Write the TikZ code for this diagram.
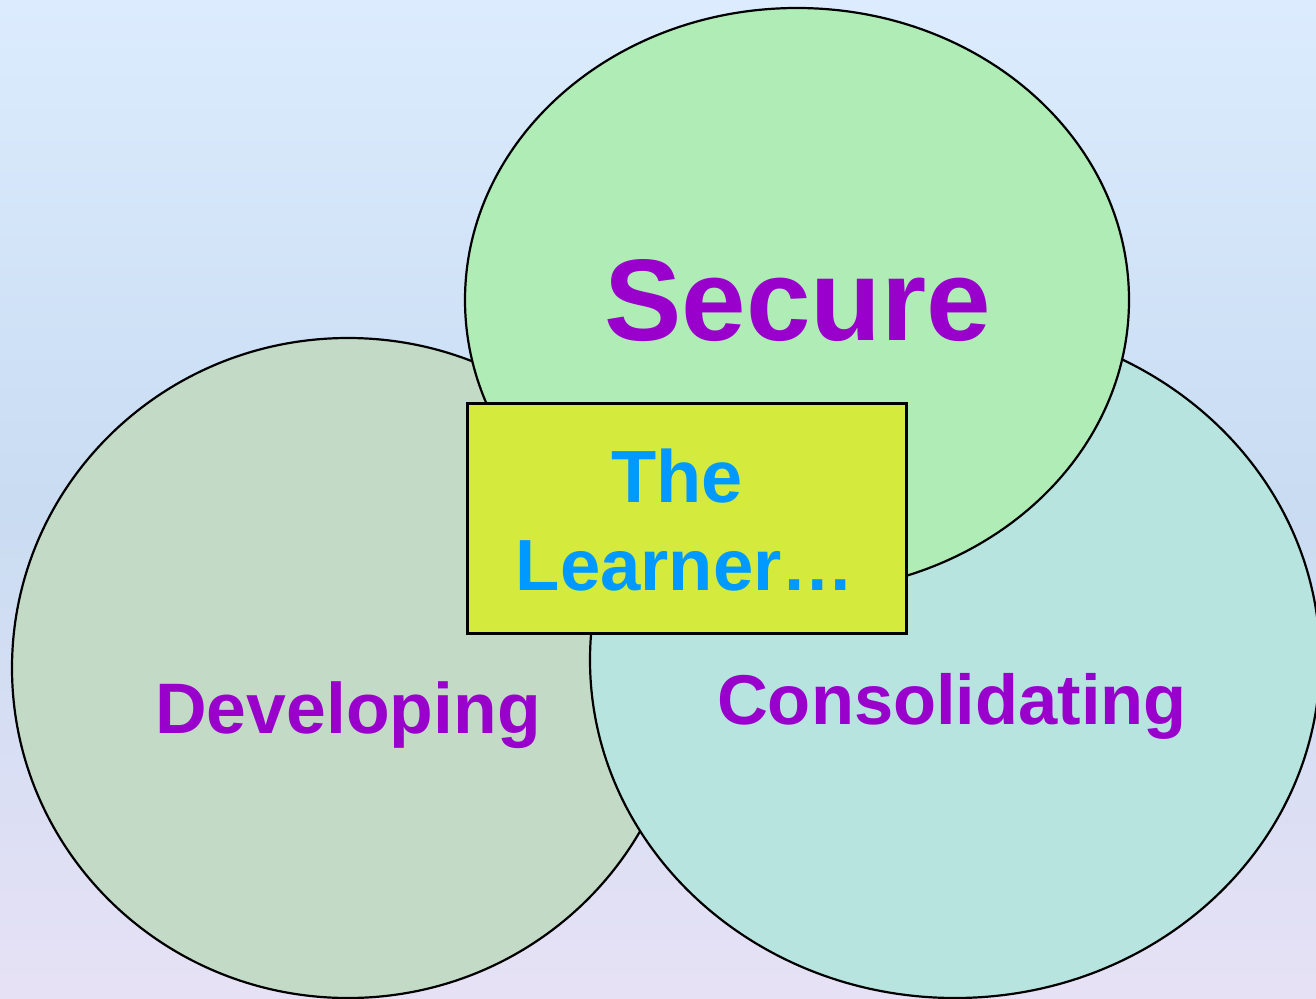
\documentclass[tikz,border=0pt]{standalone}
\usepackage{fontspec}
\setmainfont{Liberation Sans}
\usetikzlibrary{shapes.geometric}
\definecolor{bgtop}{HTML}{DCECFE}
\definecolor{bgmid}{HTML}{C9DCF2}
\definecolor{bgbot}{HTML}{E7E1F5}
\definecolor{devfill}{HTML}{C3DBC6}
\definecolor{confill}{HTML}{B8E4E0}
\definecolor{secfill}{HTML}{B0ECB6}
\definecolor{boxfill}{HTML}{D4EB3E}
\definecolor{purp}{HTML}{9900CC}
\definecolor{bluetxt}{HTML}{0099FF}
\tikzset{
  blob/.style={ellipse, draw=black, line width=2.2pt, inner sep=0pt},
  lbl/.style={text=purp, font=\bfseries, inner sep=0pt, anchor=base},
  ltxt/.style={text=bluetxt, inner sep=0pt, anchor=base}
}
\begin{document}
\begin{tikzpicture}[x=1pt,y=-1pt]
\useasboundingbox (0,0) rectangle (1316,998);
\shade[top color=bgtop, bottom color=bgbot, middle color=bgmid] (0,0) rectangle (1316,998);
\node[blob, fill=devfill, minimum width=672pt, minimum height=660pt] (dev) at (348,668) {};
\node[blob, fill=confill, minimum width=730pt, minimum height=676pt] (con) at (955,660) {};
\node[blob, fill=secfill, minimum width=664pt, minimum height=584pt] (sec) at (797,300) {};
\node[draw=black, line width=3pt, fill=boxfill, minimum width=439pt, minimum height=230pt, inner sep=0pt] (box) at (686.5,518) {};
\node[lbl, font=\bfseries\fontsize{116}{118}\selectfont] (tsec) at (798,340) {Secure};
\node[lbl, font=\bfseries\fontsize{71.5}{72}\selectfont] (tdev) at (348,733) {Developing};
\node[lbl, font=\bfseries\fontsize{70.5}{72}\selectfont] (tcon) at (952,724) {Consolidating};
\node[ltxt, font=\bfseries\fontsize{74}{80}\selectfont] (tthe) at (677,502) {The};
\node[ltxt, font=\bfseries\fontsize{72.5}{80}\selectfont] (tlea) at (685,590) {Learner…};
\end{tikzpicture}
\end{document}
